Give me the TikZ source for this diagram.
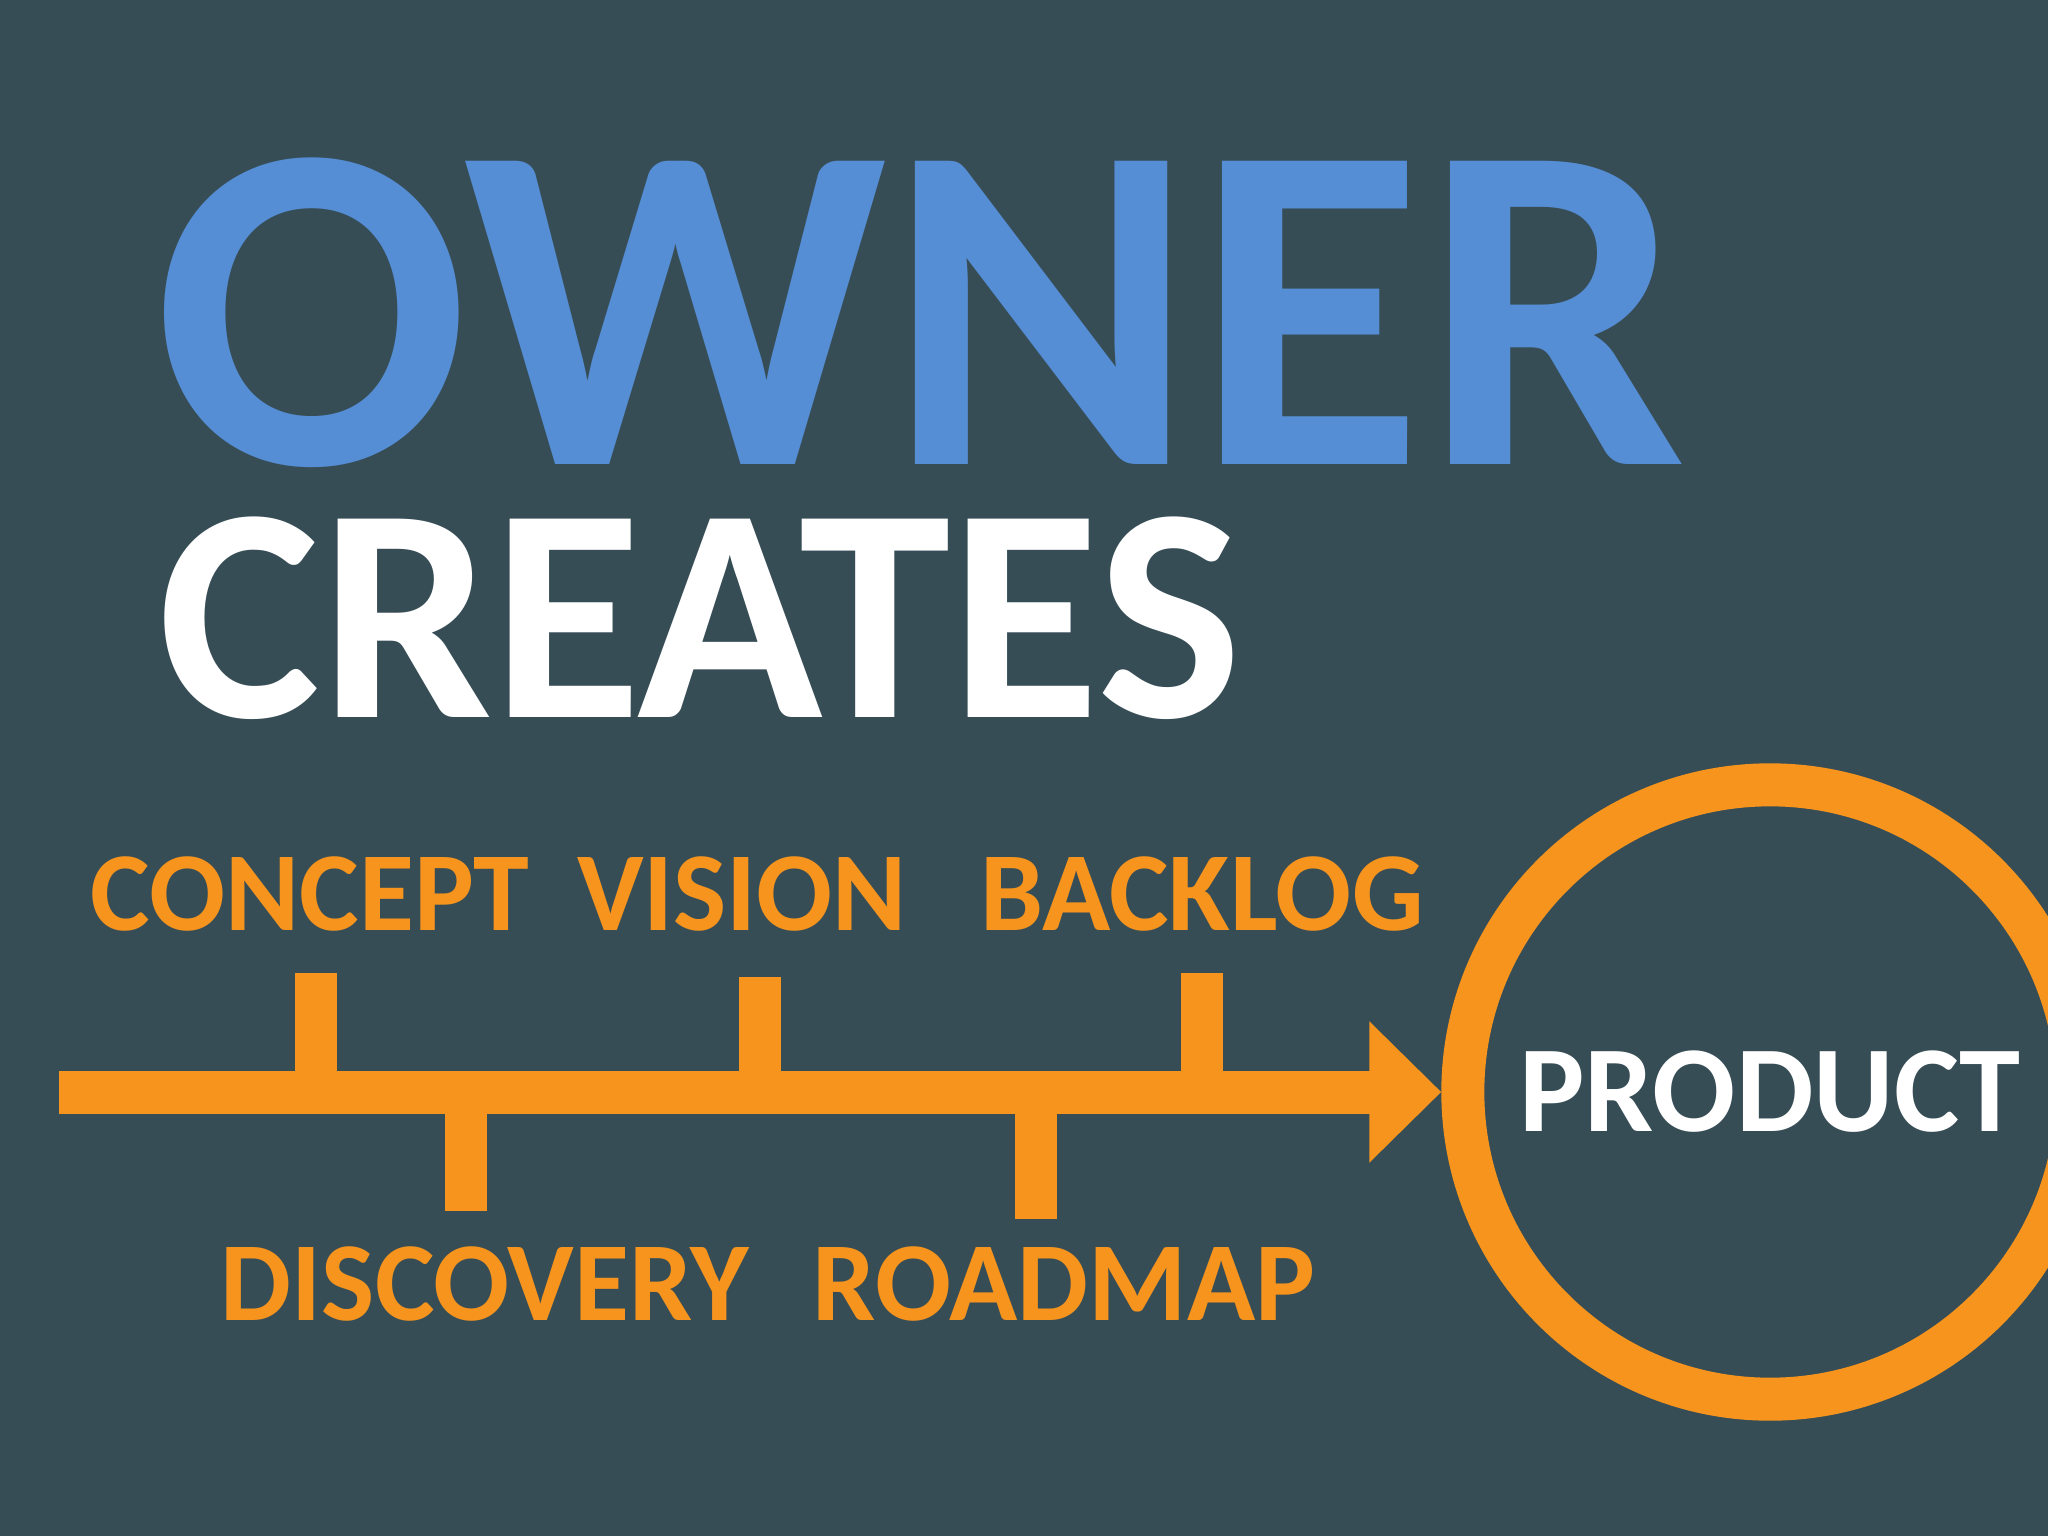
\documentclass[tikz,border=0pt]{standalone}
\usepackage{fontspec}
\setmainfont{Carlito}
\usepackage{tikz}
\usetikzlibrary{arrows.meta}
\definecolor{slate}{RGB}{55,77,86}
\definecolor{ownerblue}{RGB}{85,142,213}
\definecolor{pathorange}{RGB}{247,148,29}
\tikzset{
  word/.style={inner sep=0pt,anchor=base,text depth=0pt,font=\bfseries\fontsize{32}{32}\selectfont,text=pathorange},
  tick/.style={fill=pathorange},
  ring/.style={circle,draw=pathorange,line width=0.43cm,minimum size=6.14cm,inner sep=0pt,
    text=white,font=\bfseries\fontsize{35}{35}\selectfont}
}

\begin{document}
\begin{tikzpicture}[x=0.01cm,y=-0.01cm]
  \fill[slate] (0,0) rectangle (2048,1536);
  \useasboundingbox (0,0) rectangle (2048,1536);
  \clip (0,0) rectangle (2048,1536);

  % headline
  \node[inner sep=0pt,anchor=base,text depth=0pt,text=ownerblue,font=\bfseries\fontsize{133}{133}\selectfont] (owner) at (920,464) {OWNER};
  \node[inner sep=0pt,anchor=base,text depth=0pt,text=white,font=\bfseries\fontsize{87}{87}\selectfont] (creates) at (700,717) {CREATES};

  % target
  \node[ring] (product) at (1770,1092) {PRODUCT};

  % ticks above and below the arrow
  \fill[tick] (295,973) rectangle (337,1075);
  \fill[tick] (739,977) rectangle (781,1075);
  \fill[tick] (1181,973) rectangle (1223,1075);
  \fill[tick] (445,1108) rectangle (487,1211);
  \fill[tick] (1015,1108) rectangle (1057,1219);

  % main arrow
  \coordinate (start) at (59,1092);
  \draw[pathorange,line width=0.43cm,-{Triangle[length=0.72cm,width=1.37cm]}] (start) -- (product.west);

  % labels
  \node[word] (concept) at (310,930) {CONCEPT};
  \node[word] (vision) at (742,930) {VISION};
  \node[word] (backlog) at (1202,930) {BACKLOG};
  \node[word] (discovery) at (485,1320) {DISCOVERY};
  \node[word] (roadmap) at (1064,1320) {ROADMAP};
\end{tikzpicture}
\end{document}
